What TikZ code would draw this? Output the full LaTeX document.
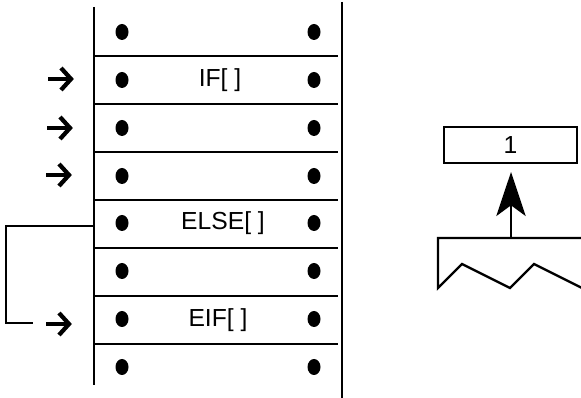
\documentclass[tikz,border=0pt]{standalone}
\usepackage{fontspec}
\setmainfont{Liberation Sans}
\usetikzlibrary{arrows.meta}
\begin{document}
\begin{tikzpicture}[x=0.75pt,y=-0.75pt,line width=1.75pt,
  lbl/.style={font=\fontsize{18.5}{22}\selectfont,inner sep=0pt},
  ptr/.pic={\draw[line width=3.2pt] (0,0) -- (22,0);
            \draw[line width=3.2pt,line join=miter] (13,-11) -- (23,0) -- (13,11);}]
\useasboundingbox (0,0) rectangle (581,398);
% stack walls
\coordinate (lt) at (94,7);   \coordinate (lb) at (94,385);
\coordinate (rt) at (342,2);  \coordinate (rb) at (342,398);
\draw (lt) -- (lb);
\draw (rt) -- (rb);
% separators
\foreach \y in {56,104,152,200,248,296,344}
  \draw (95,\y) -- (338,\y);
% dots
\foreach \y in {32,80,128,176,223,271,319,367}{
  \fill (122,\y) ellipse [x radius=6.5,y radius=8];
  \fill (314,\y) ellipse [x radius=6.5,y radius=8];
}
% labels
\node[lbl] (if) at (220,80) {IF[ ]};
\node[lbl] (else) at (223,223) {ELSE[ ]};
\node[lbl] (eif) at (218,320) {EIF[ ]};
% pointers
\coordinate (p1) at (48,79);
\coordinate (p2) at (47,128);
\coordinate (p3) at (46,175);
\coordinate (p4) at (46,324);
\path (p1) pic {ptr};
\path (p2) pic {ptr};
\path (p3) pic {ptr};
\path (p4) pic {ptr};
% jump bracket
\coordinate (js) at (94,226);
\coordinate (je) at (33,323);
\draw (js) -- (6,226) -- (6,323) -- (je);
% right part
\node[draw,lbl,minimum width=133*0.75pt,minimum height=36*0.75pt] (one) at (510.5,145) {1};
\coordinate (top) at (511,238);
\coordinate (tip) at (511,172);
\draw[-{Stealth[length=33pt,width=22pt,inset=8pt]}] (top) -- (tip);
\begin{scope}
\clip (0,0) rectangle (581,398);
\draw[line join=miter] (590,238) -- (438,238) -- (438,288) -- (462,264) -- (510,288) -- (534,264) -- (590,292);
\end{scope}
\end{tikzpicture}
\end{document}
